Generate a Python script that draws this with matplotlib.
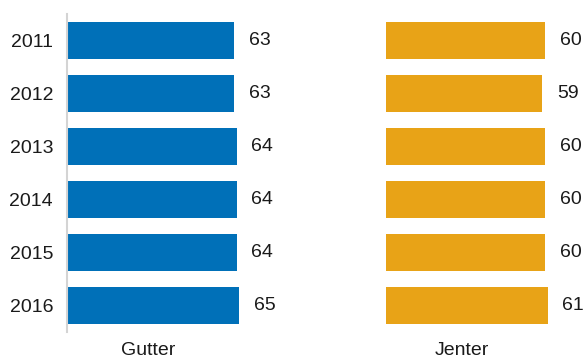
import matplotlib.pyplot as plt

plt.rcParams['font.family'] = ['Liberation Sans', 'DejaVu Sans']

years = ["2011", "2012", "2013", "2014", "2015", "2016"]
gutter = [63, 63, 64, 64, 64, 65]
jenter = [60, 59, 60, 60, 60, 61]

W, H = 584, 362
fig = plt.figure(figsize=(W / 100, H / 100), dpi=100)

bottom = (H - 332) / H
height = 318 / H
ax1 = fig.add_axes([67 / W, bottom, 265 / W, height])
ax2 = fig.add_axes([386 / W, bottom, 198 / W, height])

ypos = list(range(len(years)))
fs = 14

for ax, vals, color, xmax in [(ax1, gutter, "#0070b8", 100), (ax2, jenter, "#e8a317", 198 / 2.65)]:
    ax.barh(ypos, vals, height=0.69, color=color)
    ax.set_xlim(0, xmax)
    ax.set_ylim(len(years) - 0.5, -0.5)
    for y, v in zip(ypos, vals):
        ax.text(v + 5.6, y, str(v), va="center", ha="left", fontsize=fs, color="#1a1a1a")
    for s in ["top", "right", "bottom"]:
        ax.spines[s].set_visible(False)
    ax.set_xticks([])
    ax.tick_params(axis="y", length=0, pad=10, labelsize=fs, labelcolor="#1a1a1a")

ax1.spines["left"].set_color("#d4d4d4")
ax1.spines["left"].set_linewidth(1.5)
ax1.set_yticks(ypos)
ax1.set_yticklabels(years)

ax2.spines["left"].set_visible(False)
ax2.set_yticks([])

fig.text(148 / W, (H - 342) / H, "Gutter", ha="center", va="top", fontsize=fs, color="#1a1a1a")
fig.text(462 / W, (H - 342) / H, "Jenter", ha="center", va="top", fontsize=fs, color="#1a1a1a")

fig.savefig("out.png", dpi=100)
